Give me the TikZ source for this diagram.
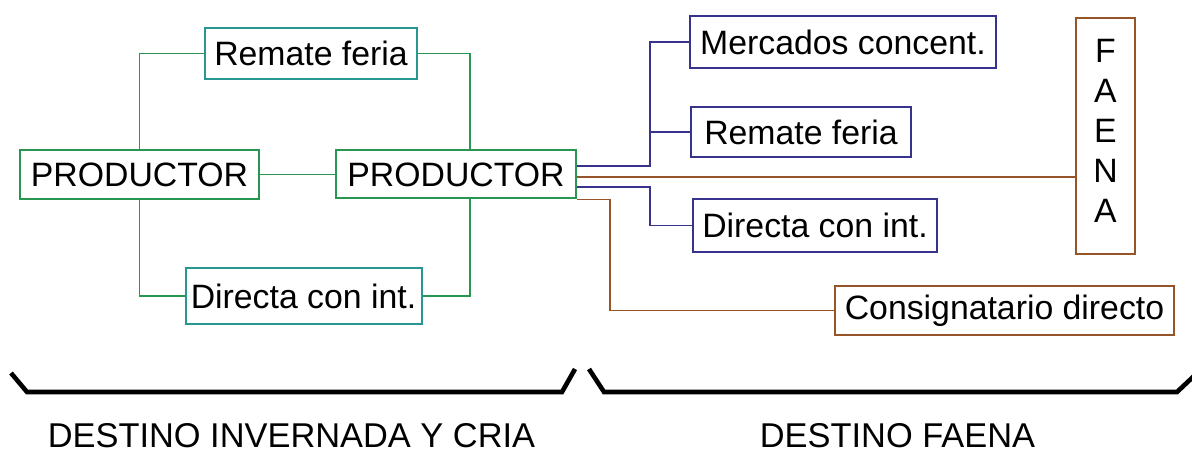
\documentclass[tikz,border=0pt]{standalone}
\usepackage{fontspec}
\setmainfont{Liberation Sans}
\usepackage{tikz}
\usetikzlibrary{positioning, calc}

\definecolor{cgreen}{RGB}{40,150,80}
\definecolor{cteal}{RGB}{40,150,145}
\definecolor{cnavy}{RGB}{55,50,140}
\definecolor{cbrown}{RGB}{150,85,40}

\begin{document}
\begin{tikzpicture}[x=0.5pt, y=-0.5pt,
    box/.style={draw, line width=1pt, inner sep=0pt, align=center,
        font=\fontsize{16.9}{20}\selectfont},
    gline/.style={cgreen, line width=0.9pt},
    nline/.style={cnavy, line width=0.9pt},
    bline/.style={cbrown, line width=0.9pt},
    bracket/.style={line width=2.3pt, line join=miter},
    destino/.style={anchor=base, inner sep=0pt, font=\fontsize{17.2}{20}\selectfont}]
\useasboundingbox (0,0) rectangle (1192,454);

% Destino invernada y cria
\node[box, cgreen, text=black, minimum width=239*0.5pt, minimum height=49*0.5pt] (prod1) at (139.5,174.5) {PRODUCTOR};
\node[box, cgreen, text=black, minimum width=240*0.5pt, minimum height=48*0.5pt] (prod2) at (456,174.5) {PRODUCTOR};
\node[box, cteal, text=black, minimum width=212*0.5pt, minimum height=51*0.5pt] (rf1) at (311,53.5) {Remate feria};
\node[box, cteal, text=black, minimum width=236*0.5pt, minimum height=56*0.5pt] (dci1) at (303.5,296) {Directa con int.};

\draw[gline] (prod1.north) |- (rf1.west);
\draw[gline] (rf1.east) -| ([xshift=7pt]prod2.north);
\draw[gline] (prod1.south) |- (dci1.west);
\draw[gline] (dci1.east) -| ([xshift=7pt]prod2.south);
\draw[gline] (prod1.east) -- (prod2.west);

% Destino faena
\node[box, cnavy, text=black, minimum width=306*0.5pt, minimum height=52*0.5pt] (mc) at (843,42) {Mercados concent.};
\node[box, cnavy, text=black, minimum width=220*0.5pt, minimum height=50*0.5pt] (rf2) at (801,132) {Remate feria};
\node[box, cnavy, text=black, minimum width=244*0.5pt, minimum height=53*0.5pt] (dci2) at (815,225.5) {Directa con int.};
\node[box, cbrown, text=black, minimum width=59*0.5pt, minimum height=236*0.5pt] (faena) at (1105.5,136) {F\\A\\E\\N\\A\\[-15pt]};
\node[box, cbrown, text=black, minimum width=339*0.5pt, minimum height=49*0.5pt] (cd) at (1004.5,310.5) {Consignatario directo};

\coordinate (jn) at (650,0);
\coordinate (jb) at (610,0);

\draw[nline] ([yshift=4.25pt]prod2.east) -| (jn |- mc.west) -- (mc.west);
\draw[nline] (rf2.west) -- (jn |- rf2.west);
\draw[bline] ([yshift=-1.25pt]prod2.east) -- ([yshift=-1.25pt]prod2.east -| faena.west);
\draw[nline] ([yshift=-6.25pt]prod2.east) -| (jn |- dci2.west) -- (dci2.west);
\draw[bline] (prod2.south east) -| (jb |- cd.west) -- (cd.west);

% Llaves
\draw[bracket] (11,373) -- (27,392) -- (562,392) -- (575,369);
\draw[bracket] (589,369) -- (604,392) -- (1177,392) -- (1194,376);

\node[destino] (lblinv) at (291.5,447) {DESTINO INVERNADA Y CRIA};
\node[destino] (lblfae) at (897.5,447) {DESTINO FAENA};
\end{tikzpicture}
\end{document}
